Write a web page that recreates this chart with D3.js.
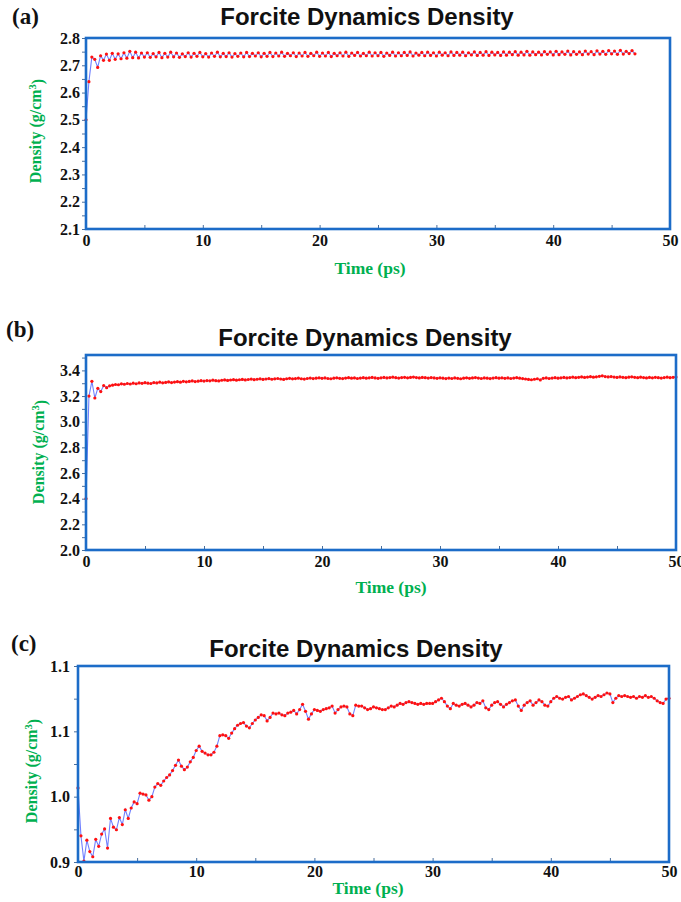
<!DOCTYPE html>
<html>
<head>
<meta charset="utf-8">
<script src="https://cdn.jsdelivr.net/npm/d3@7"></script>
<style>
    body { margin: 0; background: #ffffff; }
    .serif { font-family: "Liberation Serif", "Times New Roman", serif; font-weight: bold; }
</style>
</head>
<body>
<div id="chart"></div>
<script>
// ---- data ----
const chartTitle = "Forcite Dynamics Density";
const xLabel = "Time (ps)";
const xTicks = [0, 10, 20, 30, 40, 50];
const xMinorTicks = [5, 15, 25, 35, 45];

// panel (a): one sample every 0.25 ps, 0 .. 47 ps
const aStep = 0.25;
const aDensity = [
    2.500, 2.640, 2.730, 2.722, 2.692, 2.735, 2.718, 2.741, 2.718, 2.744,
    2.722, 2.742, 2.724, 2.746, 2.726, 2.751, 2.728, 2.748, 2.727, 2.745,
    2.730, 2.746, 2.729, 2.743, 2.731, 2.747, 2.728, 2.744, 2.730, 2.748,
    2.731, 2.745, 2.729, 2.742, 2.732, 2.746, 2.730, 2.744, 2.733, 2.747,
    2.731, 2.743, 2.730, 2.745, 2.733, 2.748, 2.731, 2.744, 2.732, 2.746,
    2.730, 2.743, 2.733, 2.745, 2.731, 2.747, 2.732, 2.744, 2.734, 2.746,
    2.731, 2.744, 2.733, 2.747, 2.732, 2.745, 2.734, 2.748, 2.733, 2.744,
    2.735, 2.746, 2.732, 2.745, 2.734, 2.747, 2.733, 2.744, 2.735, 2.748,
    2.733, 2.745, 2.734, 2.747, 2.732, 2.744, 2.735, 2.746, 2.734, 2.748,
    2.733, 2.745, 2.736, 2.747, 2.734, 2.744, 2.735, 2.748, 2.734, 2.746,
    2.735, 2.747, 2.733, 2.745, 2.736, 2.748, 2.734, 2.746, 2.735, 2.747,
    2.736, 2.749, 2.734, 2.745, 2.737, 2.747, 2.735, 2.748, 2.736, 2.746,
    2.734, 2.748, 2.737, 2.746, 2.735, 2.749, 2.736, 2.747, 2.737, 2.748,
    2.735, 2.746, 2.738, 2.749, 2.736, 2.747, 2.737, 2.750, 2.736, 2.748,
    2.738, 2.747, 2.736, 2.749, 2.737, 2.748, 2.739, 2.750, 2.737, 2.748,
    2.738, 2.751, 2.737, 2.749, 2.739, 2.748, 2.738, 2.750, 2.740, 2.749,
    2.738, 2.751, 2.739, 2.749, 2.740, 2.752, 2.738, 2.750, 2.740, 2.749,
    2.739, 2.752, 2.741, 2.750, 2.739, 2.753, 2.741, 2.751, 2.740, 2.754,
    2.742, 2.752, 2.740, 2.755, 2.741, 2.751, 2.743, 2.754, 2.742
];
const aYTicks = [2.1, 2.2, 2.3, 2.4, 2.5, 2.6, 2.7, 2.8];
const aYMinor = [2.15, 2.25, 2.35, 2.45, 2.55, 2.65, 2.75];

// panel (b): one sample every 0.25 ps, 0 .. 50 ps
const bStep = 0.25;
const bDensity = [
    2.400, 3.200, 3.315, 3.185, 3.260, 3.235, 3.282, 3.265, 3.280, 3.285,
    3.290, 3.288, 3.295, 3.292, 3.298, 3.294, 3.300, 3.296, 3.302, 3.299,
    3.304, 3.300, 3.298, 3.305, 3.302, 3.308, 3.303, 3.306, 3.310, 3.305,
    3.309, 3.312, 3.308, 3.315, 3.311, 3.314, 3.318, 3.313, 3.316, 3.320,
    3.317, 3.321, 3.319, 3.324, 3.320, 3.318, 3.323, 3.326, 3.322, 3.325,
    3.328, 3.324, 3.327, 3.330, 3.326, 3.329, 3.332, 3.328, 3.331, 3.334,
    3.330, 3.333, 3.336, 3.331, 3.334, 3.337, 3.333, 3.330, 3.335, 3.338,
    3.334, 3.336, 3.339, 3.335, 3.332, 3.337, 3.340, 3.336, 3.339, 3.342,
    3.338, 3.341, 3.337, 3.335, 3.339, 3.342, 3.338, 3.336, 3.340, 3.343,
    3.339, 3.341, 3.337, 3.340, 3.343, 3.339, 3.342, 3.345, 3.341, 3.338,
    3.342, 3.345, 3.341, 3.344, 3.347, 3.343, 3.340, 3.344, 3.346, 3.342,
    3.345, 3.348, 3.344, 3.341, 3.345, 3.343, 3.340, 3.344, 3.341, 3.338,
    3.342, 3.339, 3.336, 3.340, 3.337, 3.341, 3.338, 3.335, 3.339, 3.342,
    3.338, 3.341, 3.344, 3.340, 3.337, 3.341, 3.339, 3.336, 3.340, 3.343,
    3.339, 3.342, 3.338, 3.341, 3.337, 3.340, 3.343, 3.339, 3.336, 3.333,
    3.330, 3.327, 3.331, 3.335, 3.326, 3.338, 3.341, 3.337, 3.340, 3.343,
    3.339, 3.342, 3.345, 3.341, 3.344, 3.347, 3.343, 3.346, 3.349, 3.345,
    3.348, 3.351, 3.347, 3.350, 3.354, 3.358, 3.352, 3.349, 3.352, 3.348,
    3.345, 3.349, 3.346, 3.343, 3.347, 3.350, 3.346, 3.343, 3.347, 3.344,
    3.341, 3.345, 3.342, 3.346, 3.343, 3.340, 3.344, 3.347, 3.343, 3.346,
    3.348
];
const bYTicks = [2.0, 2.2, 2.4, 2.6, 2.8, 3.0, 3.2, 3.4];
const bYMinor = [2.1, 2.3, 2.5, 2.7, 2.9, 3.1, 3.3, 3.5];

// panel (c): one sample every 0.25 ps, 0 .. 50 ps
const cStep = 0.25;
const cDensity = [
    0.985, 0.930, 0.901, 0.925, 0.912, 0.906, 0.926, 0.918, 0.932, 0.938,
    0.916, 0.950, 0.940, 0.937, 0.951, 0.943, 0.960, 0.950, 0.962, 0.969,
    0.967, 0.979, 0.978, 0.977, 0.971, 0.975, 0.986, 0.990, 0.988, 0.993,
    0.997, 1.000, 1.005, 1.011, 1.017, 1.010, 1.006, 1.009, 1.015, 1.020,
    1.028, 1.033, 1.027, 1.025, 1.023, 1.023, 1.026, 1.033, 1.045, 1.046,
    1.045, 1.042, 1.048, 1.053, 1.057, 1.059, 1.060, 1.056, 1.054, 1.059,
    1.063, 1.066, 1.069, 1.068, 1.062, 1.066, 1.071, 1.070, 1.071, 1.069,
    1.068, 1.071, 1.072, 1.074, 1.070, 1.075, 1.081, 1.073, 1.064, 1.070,
    1.075, 1.074, 1.073, 1.075, 1.076, 1.077, 1.079, 1.071, 1.075, 1.078,
    1.079, 1.078, 1.070, 1.068, 1.080, 1.079, 1.079, 1.077, 1.075, 1.076,
    1.078, 1.077, 1.076, 1.075, 1.075, 1.077, 1.079, 1.078, 1.080, 1.082,
    1.081, 1.083, 1.084, 1.083, 1.082, 1.081, 1.082, 1.081, 1.082, 1.082,
    1.082, 1.084, 1.086, 1.088, 1.084, 1.079, 1.076, 1.082, 1.080, 1.079,
    1.081, 1.082, 1.080, 1.078, 1.080, 1.083, 1.082, 1.085, 1.077, 1.075,
    1.080, 1.083, 1.084, 1.081, 1.078, 1.081, 1.083, 1.085, 1.086, 1.079,
    1.074, 1.080, 1.083, 1.085, 1.080, 1.083, 1.086, 1.084, 1.080, 1.079,
    1.084, 1.088, 1.090, 1.088, 1.087, 1.089, 1.090, 1.086, 1.088, 1.090,
    1.092, 1.093, 1.091, 1.089, 1.087, 1.089, 1.091, 1.090, 1.092, 1.094,
    1.093, 1.083, 1.088, 1.091, 1.090, 1.091, 1.090, 1.089, 1.090, 1.088,
    1.090, 1.089, 1.091, 1.089, 1.090, 1.088, 1.085, 1.083, 1.082, 1.087,
    1.088
];
const cYTicks = [0.9, 0.975, 1.05, 1.125];
const cYTickLabels = ["0.9", "1.0", "1.1", "1.1"];
const cYMinor = [0.9375, 1.0125, 1.0875];

// ---- layout ----
const W = 681, H = 902;
const axisBlue = "#1c6cc8";
const labelGreen = "#00b050";
const lineBlue = "#7080ff";
const dotRed = "#ff1010";

const panels = [
    {
        letter: "(a)", letterX: 12, letterY: 24,
        titleX: 367, titleY: 25,
        box: {left: 86, right: 670, top: 38, bottom: 229},
        yDomain: [2.1, 2.8], yTicks: aYTicks, yMinor: aYMinor, yFormat: d3.format(".1f"),
        yPad: 2, xPad: 6,
        yLabelX: 35, yLabelY: 131, xLabelX: 370, xLabelY: 274,
        step: aStep, values: aDensity
    },
    {
        letter: "(b)", letterX: 6, letterY: 337,
        titleX: 365, titleY: 346,
        box: {left: 86, right: 676, top: 355, bottom: 550},
        yDomain: [2.0, 3.52], yTicks: bYTicks, yMinor: bYMinor, yFormat: d3.format(".1f"),
        yPad: 2, xPad: 6,
        yLabelX: 38, yLabelY: 452, xLabelX: 391, xLabelY: 593,
        step: bStep, values: bDensity
    },
    {
        letter: "(c)", letterX: 11, letterY: 651,
        titleX: 356, titleY: 657,
        box: {left: 78, right: 669, top: 666, bottom: 862},
        yDomain: [0.9, 1.125], yTicks: cYTicks, yMinor: cYMinor,
        yFormat: (d, i) => cYTickLabels[i],
        yPad: 4, xPad: 4,
        yLabelX: 31, yLabelY: 771, xLabelX: 368, xLabelY: 894,
        step: cStep, values: cDensity
    }
];

const svg = d3.select("#chart")
    .append("svg")
    .attr("width", W)
    .attr("height", H)
    .style("background", "#ffffff");

panels.forEach(p => drawPanel(p));

function drawPanel(p) {
    const b = p.box;
    const g = svg.append("g");

    const x = d3.scaleLinear().domain([0, 50]).range([b.left, b.right]);
    const y = d3.scaleLinear().domain(p.yDomain).range([b.bottom, b.top]);

    // panel letter and title
    g.append("text")
        .attr("class", "serif")
        .attr("x", p.letterX)
        .attr("y", p.letterY)
        .style("font-size", "23px")
        .style("fill", "#111")
        .text(p.letter);

    g.append("text")
        .attr("x", p.titleX)
        .attr("y", p.titleY)
        .attr("text-anchor", "middle")
        .style("font-family", "'Liberation Sans', Arial, sans-serif")
        .style("font-weight", "bold")
        .style("font-size", "24px")
        .style("fill", "#111")
        .text(chartTitle);

    // y axis, major + minor ticks
    g.append("g")
        .attr("transform", `translate(${b.left},0)`)
        .call(d3.axisLeft(y).tickValues(p.yTicks).tickFormat(p.yFormat)
            .tickSize(4).tickPadding(p.yPad));
    g.append("g")
        .attr("transform", `translate(${b.left},0)`)
        .call(d3.axisLeft(y).tickValues(p.yMinor).tickFormat("").tickSize(4));

    // x axis, ticks point inward
    g.append("g")
        .attr("transform", `translate(0,${b.bottom})`)
        .call(d3.axisBottom(x).tickValues(xTicks).tickFormat(d3.format("d"))
            .tickSizeInner(-4).tickSizeOuter(0).tickPadding(p.xPad));
    g.append("g")
        .attr("transform", `translate(0,${b.bottom})`)
        .call(d3.axisBottom(x).tickValues(xMinorTicks).tickFormat("")
            .tickSizeInner(-4).tickSizeOuter(0));

    g.selectAll(".domain").remove();
    g.selectAll(".tick line").attr("stroke", "#4a6f9c").attr("stroke-width", 1);
    g.selectAll(".tick text")
        .attr("class", "serif")
        .style("font-size", "16px")
        .style("fill", "#111");

    // the series: thin blue line with red sample dots
    const pts = p.values.map((v, i) => ({t: i * p.step, v: v}));

    const line = d3.line()
        .x(d => x(d.t))
        .y(d => y(d.v));

    g.append("path")
        .datum(pts)
        .attr("d", line)
        .attr("fill", "none")
        .attr("stroke", lineBlue)
        .attr("stroke-width", 1.1);

    g.append("g")
        .selectAll("circle")
        .data(pts)
        .join("circle")
        .attr("cx", d => x(d.t))
        .attr("cy", d => y(d.v))
        .attr("r", 1.6)
        .attr("fill", dotRed);

    // blue frame
    g.append("rect")
        .attr("x", b.left)
        .attr("y", b.top)
        .attr("width", b.right - b.left)
        .attr("height", b.bottom - b.top)
        .attr("fill", "none")
        .attr("stroke", axisBlue)
        .attr("stroke-width", 2.6);

    // axis labels
    g.append("text")
        .attr("class", "serif")
        .attr("x", p.xLabelX)
        .attr("y", p.xLabelY)
        .attr("text-anchor", "middle")
        .style("font-size", "17.5px")
        .style("fill", labelGreen)
        .text(xLabel);

    const yl = g.append("text")
        .attr("class", "serif")
        .attr("text-anchor", "middle")
        .attr("transform", `translate(${p.yLabelX},${p.yLabelY}) rotate(-90)`)
        .attr("dy", "0.35em")
        .style("font-size", "16px")
        .style("fill", labelGreen);
    yl.append("tspan").text("Density (g/cm");
    yl.append("tspan").attr("dy", "-0.4em").style("font-size", "10.5px").text("3");
    yl.append("tspan").attr("dy", "0.4em").text(")");
}
</script>
</body>
</html>
